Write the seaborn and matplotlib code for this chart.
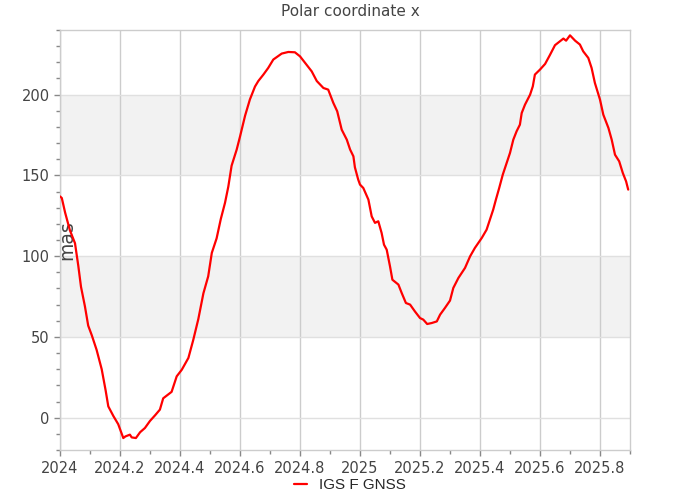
import matplotlib
matplotlib.use("Agg")
import matplotlib.pyplot as plt
import matplotlib.ticker as mticker
import numpy as np
import pandas as pd
import seaborn as sns

# ---- data ----
year = [2024.000, 2024.006, 2024.017, 2024.033, 2024.050, 2024.061, 2024.070, 2024.083,
        2024.094, 2024.106, 2024.122, 2024.139, 2024.152, 2024.161, 2024.178, 2024.194,
        2024.211, 2024.218, 2024.233, 2024.239, 2024.253, 2024.267, 2024.283, 2024.300,
        2024.317, 2024.333, 2024.344, 2024.372, 2024.389, 2024.406, 2024.428, 2024.444,
        2024.461, 2024.478, 2024.494, 2024.506, 2024.522, 2024.536, 2024.550, 2024.561,
        2024.572, 2024.589, 2024.600, 2024.617, 2024.633, 2024.650, 2024.661, 2024.678,
        2024.694, 2024.711, 2024.739, 2024.761, 2024.783, 2024.800, 2024.817, 2024.839,
        2024.856, 2024.878, 2024.894, 2024.911, 2024.924, 2024.939, 2024.956, 2024.967,
        2024.978, 2024.983, 2024.994, 2025.000, 2025.011, 2025.028, 2025.039, 2025.050,
        2025.061, 2025.072, 2025.080, 2025.089, 2025.100, 2025.108, 2025.128, 2025.139,
        2025.153, 2025.167, 2025.183, 2025.200, 2025.211, 2025.224, 2025.239, 2025.256,
        2025.267, 2025.283, 2025.300, 2025.311, 2025.328, 2025.350, 2025.367, 2025.383,
        2025.406, 2025.422, 2025.433, 2025.444, 2025.453, 2025.464, 2025.476, 2025.489,
        2025.500, 2025.511, 2025.522, 2025.533, 2025.539, 2025.550, 2025.567, 2025.576,
        2025.583, 2025.600, 2025.617, 2025.633, 2025.650, 2025.667, 2025.678, 2025.687,
        2025.700, 2025.717, 2025.733, 2025.744, 2025.761, 2025.772, 2025.783, 2025.800,
        2025.811, 2025.828, 2025.839, 2025.850, 2025.864, 2025.876, 2025.887, 2025.894]
pm_x = [137.0, 136.0, 127.0, 116.0, 108.0, 94.0, 81.0, 69.0,
        57.0, 51.0, 42.0, 30.0, 17.0, 7.0, 1.0, -4.0,
        -12.6, -11.6, -10.5, -12.2, -12.6, -9.0, -6.4, -2.0,
        1.5, 5.0, 12.0, 16.0, 25.6, 29.7, 37.0, 48.0,
        61.0, 77.0, 87.5, 102.0, 111.0, 123.0, 133.0, 143.0,
        156.0, 166.0, 174.0, 187.0, 197.0, 205.0, 208.4, 212.4,
        216.5, 221.7, 225.4, 226.4, 226.2, 223.7, 219.6, 214.4,
        208.4, 204.1, 203.1, 194.9, 189.7, 178.3, 172.1, 166.0,
        161.8, 155.0, 147.4, 144.3, 142.2, 135.0, 124.6, 120.6,
        121.6, 114.4, 107.1, 104.0, 93.7, 85.4, 82.4, 77.2,
        71.0, 70.0, 65.8, 61.7, 60.7, 58.0, 58.6, 59.6,
        63.8, 67.9, 72.5, 80.3, 86.5, 92.7, 99.9, 105.1,
        111.3, 116.4, 122.6, 128.8, 135.0, 142.2, 150.5, 157.7,
        163.9, 172.1, 177.3, 181.4, 188.6, 193.8, 200.0, 205.1,
        212.4, 215.5, 219.0, 224.5, 230.6, 233.1, 234.7, 233.4,
        236.7, 233.4, 231.0, 226.8, 222.7, 216.5, 207.2, 196.9,
        187.6, 179.4, 172.1, 162.8, 158.7, 151.5, 146.3, 141.2]
series_name = "IGS F GNSS"
title = "Polar coordinate x"
y_unit = "mas"

df = pd.DataFrame({"year": year, "value": pm_x, "series": series_name})

sns.set_theme(style="white")
plt.rcParams["font.family"] = ["DejaVu Sans"]

fig = plt.figure(figsize=(7, 5), dpi=100)
ax = fig.add_axes([60 / 700, 1 - 450 / 500, 570 / 700, 420 / 500])

# alternating bands
for lo, hi in [(50, 100), (150, 200)]:
    ax.axhspan(lo, hi, color="#f2f2f2", zorder=0, lw=0)

sns.lineplot(data=df, x="year", y="value", hue="series", palette=["#ff0000"],
             linewidth=1.6, ax=ax, legend=False, zorder=3)

ax.set_xlim(2024.0, 2025.9)
ax.set_ylim(-20, 240)

ax.xaxis.set_major_locator(mticker.MultipleLocator(0.2))
ax.xaxis.set_minor_locator(mticker.MultipleLocator(0.1))
ax.xaxis.set_major_formatter(mticker.FuncFormatter(
    lambda v, p: f"{v:.1f}".rstrip("0").rstrip(".")))
ax.yaxis.set_major_locator(mticker.MultipleLocator(50))
ax.yaxis.set_minor_locator(mticker.MultipleLocator(10))

ax.grid(axis="x", which="major", color="#cccccc", lw=1, zorder=1)
ax.grid(axis="y", which="major", color="#e0e0e0", lw=1, zorder=1)
ax.set_axisbelow(True)

for s in ax.spines.values():
    s.set_color("#cccccc")
    s.set_linewidth(1)

ax.tick_params(axis="both", which="major", colors="#888888", labelcolor="#444444",
               labelsize=10.5, length=4, width=1, bottom=True, left=True)
ax.tick_params(axis="both", which="minor", colors="#888888", length=3, width=1,
               bottom=True, left=True)
ax.tick_params(axis="x", which="major", pad=4)

ax.set_xlabel("")
ax.set_ylabel(y_unit, fontsize=13.5, color="#444444",
              family=["Liberation Sans Narrow", "DejaVu Sans"])
ax.yaxis.set_label_coords(16 / 570, 0.5)

fig.text(0.5, 1 - 12 / 500, title, ha="center", va="center", fontsize=11,
         color="#444444", family=["Liberation Sans Narrow", "DejaVu Sans"])

from matplotlib.lines import Line2D
handle = Line2D([], [], color="#ff0000", lw=1.6)
fig.legend([handle], [series_name], loc="center", bbox_to_anchor=(0.5, 1 - 485 / 500),
           frameon=False, handlelength=0.8, handletextpad=0.8,
           prop={"family": ["Liberation Sans", "DejaVu Sans"], "size": 11})

fig.savefig("out.png", dpi=100)
